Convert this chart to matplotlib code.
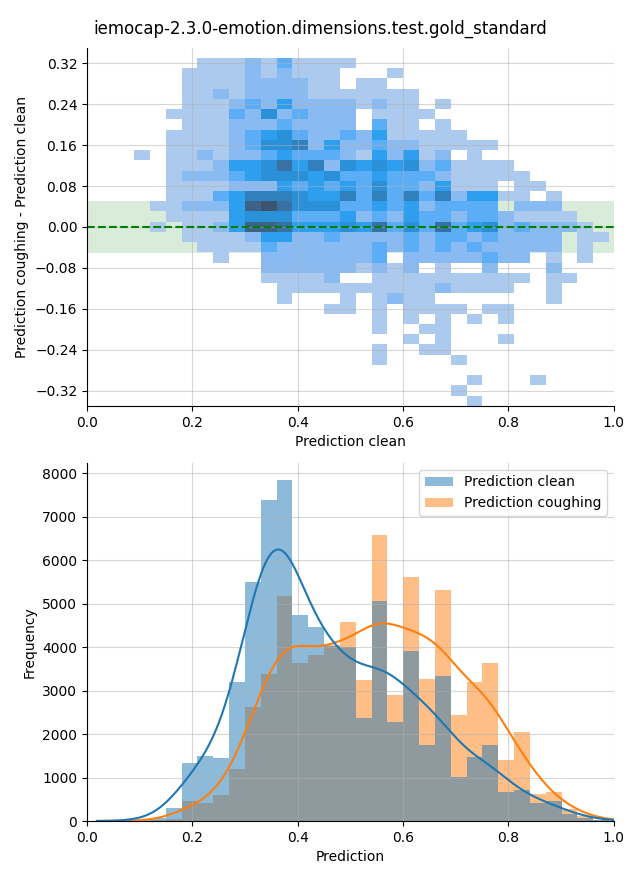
import matplotlib
matplotlib.use("Agg")
import matplotlib.pyplot as plt
from matplotlib.patches import Patch
import numpy as np
import seaborn as sns

TITLE = "iemocap-2.3.0-emotion.dimensions.test.gold_standard"

# prediction bins (shared by both panels)
bin_start = 0.0291
bin_width = 0.03006
n_bins = 32

# frequency per prediction bin
clean_counts = [3, 5, 20, 60, 307, 1329, 1498, 1444, 3203, 5499, 7389, 7849,
                4739, 4462, 4030, 4009, 2373, 5061, 2273, 3909, 1751, 3333,
                1014, 1467, 1751, 668, 707, 422, 461, 154, 80, 20]
coughing_counts = [2, 3, 5, 15, 40, 461, 407, 591, 1190, 2619, 3379, 5184,
                   3648, 3825, 4050, 4577, 3241, 6582, 2896, 5614, 3264, 5315,
                   2435, 3195, 3633, 1398, 2043, 614, 668, 269, 120, 30]

# difference bins (coughing - clean)
diff_start = -0.3497
diff_width = 0.02

# cell intensity (1 light .. 9 dark, '.' empty), top row = largest difference,
# first column is prediction bin no. 2 (0.089 - 0.119)
first_col = 2
diff_levels = [
    "....1112131111................",
    "...1111212111...1.............",
    "...1111222211.11..............",
    "...112122221111111............",
    "...111232422221211.1..........",
    "..111132523222.1111...........",
    "...11122232222.311.1..........",
    "..1111234532232411111.........",
    "..111123556242232211111.......",
    "1.112122343332142412.1........",
    "..1112445746254545231111......",
    "..12223455545334333211111.....",
    "..111122243434353324111.11....",
    "..11134666544636363624411.1...",
    ".1122248975553343423333.222...",
    "..11114555333423243323321111..",
    ".1.11248874445473537345232221.",
    "...111124422322223233232222.11",
    "....11113222222323232322222.1.",
    ".....1..22222223.22222322.1.1.",
    "........2222221212.1..2...2...",
    "........11112..1111111111.11..",
    ".........111111111121111..1...",
    ".........1...1.1211.......1...",
    "............11.1.1111.11......",
    "...............1.1.1.1.1......",
    "...............1..11..........",
    ".................1.1...1......",
    "...............1..11..........",
    "...............1....1.........",
    "..............................",
    ".....................1...1....",
    "....................1.........",
    ".....................1........",
]

edges = bin_start + bin_width * np.arange(n_bins + 1)
centers = edges[:-1] + bin_width / 2
n_rows = len(diff_levels)
diff_edges = diff_start + diff_width * np.arange(n_rows + 1)

xs, ys, ws = [], [], []
for r, row in enumerate(diff_levels):
    yi = n_rows - 1 - r
    for c, ch in enumerate(row):
        if ch != ".":
            xs.append(centers[first_col + c])
            ys.append(diff_edges[yi] + diff_width / 2)
            ws.append(int(ch))

fig, (ax1, ax2) = plt.subplots(2, 1, figsize=(6.4, 8.8))
fig.subplots_adjust(left=0.136, right=0.959, bottom=0.067, top=0.9456, hspace=0.159)
fig.suptitle(TITLE, fontsize=12, y=0.978)

# top: difference vs clean prediction
ax1.axhspan(-0.05, 0.05, color="green", alpha=0.15, lw=0, zorder=0)
sns.histplot(x=xs, y=ys, weights=ws, bins=(edges.tolist(), diff_edges.tolist()),
             ax=ax1, vmin=1, vmax=9)
ax1.axhline(0, color="green", ls="--", lw=1.5)
ax1.set_xlim(0, 1)
ax1.set_ylim(-0.35, 0.35)
ax1.set_yticks(np.round(np.arange(-0.32, 0.33, 0.08), 2))
ax1.set_xlabel("Prediction clean")
ax1.set_ylabel("Prediction coughing - Prediction clean")
ax1.grid(True, alpha=0.5)

# bottom: distributions
sns.histplot(x=centers, weights=coughing_counts, bins=edges.tolist(), ax=ax2,
             color="C1", alpha=0.5, linewidth=0, kde=True,
             kde_kws=dict(bw_adjust=0.45, cut=0.4))
sns.histplot(x=centers, weights=clean_counts, bins=edges.tolist(), ax=ax2,
             color="C0", alpha=0.5, linewidth=0, kde=True,
             kde_kws=dict(bw_adjust=0.45, cut=0.4))
ax2.set_xlim(0, 1)
ax2.set_xlabel("Prediction")
ax2.set_ylabel("Frequency")
ax2.grid(True, alpha=0.5)
ax2.legend(handles=[Patch(color="C0", alpha=0.5, lw=0, label="Prediction clean"),
                    Patch(color="C1", alpha=0.5, lw=0, label="Prediction coughing")],
           loc="upper right")

for ax in (ax1, ax2):
    ax.spines["top"].set_visible(False)
    ax.spines["right"].set_visible(False)

fig.savefig("out.png", dpi=100)
